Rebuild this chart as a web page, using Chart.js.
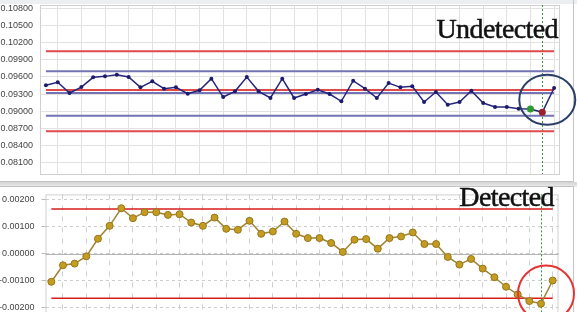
<!DOCTYPE html>
<html>
<head>
<meta charset="utf-8">
<script src="https://cdn.jsdelivr.net/npm/chart.js@4/dist/chart.umd.min.js"></script>
<style>
  html, body { margin: 0; padding: 0; background: #fff; overflow: hidden; }
  body { width: 577px; height: 312px; position: relative; }
  .band { position: absolute; left: 0; width: 577px; }
  #topPanel { position: absolute; left: 0; top: 0; width: 573px; height: 181px; border-right: 1px solid #c4c4c4; border-bottom: 1px solid #c4c4c4; }
  #botPanel { position: absolute; left: 0; top: 186px; width: 573px; height: 140px; border-right: 1px solid #c4c4c4; border-top: 1px solid #c4c4c4; }
  canvas { position: absolute; left: 0; }
  .tag { position: absolute; font-family: "Liberation Serif", serif; font-size: 28px; line-height: 28px;
         letter-spacing: -0.6px; color: #111; -webkit-text-stroke: 0.5px #111;
         text-shadow: 0 0 2px #fff, 0 0 2px #fff; }
</style>
</head>
<body>
<div class="band" style="top:0;height:4px;background:#eceef1"></div>
<div id="topPanel"></div>
<div class="band" style="top:182px;height:5px;background:linear-gradient(#d4d4d4,#ececec)"></div>
<div id="botPanel"></div>
<canvas id="chartTop" width="577" height="180" style="top:0"></canvas>
<canvas id="chartBot" width="577" height="140" style="top:186px"></canvas>
<div class="tag" style="right:19px;top:15px">Undetected</div>
<div class="tag" style="right:23px;top:183px">Detected</div>
<script>
// 上: 個々の測定値 / 下: 累積和
const samples = ["1","2","3","4","5","6","7","8","9","10","11","12","13","14","15","16","17","18","19","20","21","22",
  "23","24","25","26","27","28","29","30","31","32","33","34","35","36","37","38","39","40","41","42","43","44"];

const topValues = [0.09453, 0.09506, 0.09318, 0.09423, 0.09593, 0.09610, 0.09638, 0.09598, 0.09418, 0.09523, 0.09394,
  0.09418, 0.09306, 0.09366, 0.09569, 0.09248, 0.09348, 0.09598, 0.09348, 0.09231, 0.09569, 0.09231,
  0.09301, 0.09376, 0.09301, 0.09173, 0.09534, 0.09394, 0.09231, 0.09493, 0.09418, 0.09436, 0.09161,
  0.09336, 0.09114, 0.09161, 0.09359, 0.09143, 0.09073, 0.09073, 0.09044, 0.09038, 0.08981, 0.09406];
const topRedLimits = [0.1005, 0.0937, 0.0865];
const topBlueLimits = [0.0970, 0.0932, 0.0892];
const topTicks = [0.081, 0.084, 0.087, 0.090, 0.093, 0.096, 0.099, 0.102, 0.105, 0.108];

const botValues = [-0.001044, -0.000432, -0.000369, -0.000100, 0.000554, 0.001033, 0.001686, 0.001317, 0.001539,
  0.001539, 0.001439, 0.001465, 0.001155, 0.001033, 0.001339, 0.000923, 0.000886, 0.001218, 0.000738,
  0.000823, 0.001192, 0.000738, 0.000579, 0.000579, 0.000395, 0.000063, 0.000517, 0.000542, 0.000185,
  0.000579, 0.000638, 0.000786, 0.000358, 0.000358, -0.000122, -0.000406, -0.000196, -0.000554,
  -0.000875, -0.001229, -0.001513, -0.001760, -0.001856, -0.000996];
const botLimits = [0.00166, -0.00166];
const botTicks = [-0.002, -0.001, 0, 0.001, 0.002];

const markIndex = 42;   // 検出された点
const warnIndex = 41;

const tickFont = { family: "'Liberation Sans', Arial, sans-serif", size: 9 };

function limitSet(v, color, width) {
  return { data: samples.map(() => v), borderColor: color, borderWidth: width, pointRadius: 0, order: 2 };
}

// 枠・縦線・丸
const decoPlugin = {
  id: "deco",
  beforeDatasetsDraw(chart, args, opts) {
    const a = chart.chartArea, c = chart.ctx, x = chart.scales.x, y = chart.scales.y;
    c.save();
    c.strokeStyle = "#d0d0d0"; c.lineWidth = 1;
    c.strokeRect(a.left + 0.5, a.top + 0.5, a.right - a.left - 1, a.bottom - a.top);
    if (opts.zero) {
      const yz = Math.round(y.getPixelForValue(0)) + 0.5;
      c.strokeStyle = "#b4b4b4";
      c.beginPath(); c.moveTo(a.left, yz); c.lineTo(a.right, yz); c.stroke();
    }
    const xm = Math.round(x.getPixelForValue(markIndex)) + 0.5;
    c.strokeStyle = "#2f9a2f"; c.setLineDash([2, 2]);
    c.beginPath(); c.moveTo(xm, a.top); c.lineTo(xm, a.bottom); c.stroke();
    c.restore();
  },
  afterDatasetsDraw(chart, args, opts) {
    const c = chart.ctx, x = chart.scales.x, y = chart.scales.y;
    c.save();
    c.strokeStyle = opts.ringColor; c.lineWidth = 2;
    c.beginPath();
    c.ellipse(x.getPixelForValue(markIndex) + 5, y.getPixelForValue(opts.ringValue), opts.rx, opts.ry, 0, 0, Math.PI * 2);
    c.stroke();
    c.restore();
  }
};

function xAxis(dashed) {
  return {
    type: "category", offset: true,
    ticks: { display: false },
    border: { display: false, dash: dashed ? [5, 6] : [] },
    grid: { drawTicks: false, color: ctx => ctx.index % 2 === 1 ? (dashed ? "#cfcfcf" : "#e2e2e2") : "rgba(0,0,0,0)" },
    afterFit: s => { s.height = 0; s.paddingLeft = 0; s.paddingRight = 0; }
  };
}

function yAxis(min, max, ticks, width, dashed) {
  return {
    min: min, max: max,
    afterBuildTicks: s => { s.ticks = ticks.map(v => ({ value: v })); },
    ticks: { font: tickFont, color: "#444", padding: 7, callback: v => v.toFixed(5) },
    border: { display: false, dash: dashed ? [3, 3] : [] },
    grid: { color: dashed ? "#cdcdcd" : "#e2e2e2", drawTicks: dashed, tickLength: 4, tickColor: "#bbb" },
    afterFit: s => { s.width = width; s.paddingTop = 0; s.paddingBottom = 0; }
  };
}

new Chart(document.getElementById("chartTop").getContext("2d"), {
  type: "line",
  data: {
    labels: samples,
    datasets: [
      {
        data: topValues, borderColor: "#25257c", borderWidth: 1.5, order: 0,
        pointRadius: samples.map((s, i) => i === markIndex || i === warnIndex ? 3.5 : 2),
        pointBackgroundColor: samples.map((s, i) => i === markIndex ? "#9c1f2e" : i === warnIndex ? "#2e9a2e" : "#1c1c6c"),
        pointBorderColor: samples.map((s, i) => i === markIndex ? "#9c1f2e" : i === warnIndex ? "#2e9a2e" : "#1c1c6c"),
        pointBorderWidth: 0
      },
      ...topRedLimits.map(v => limitSet(v, "#df4a4a", 2)),
      ...topBlueLimits.map(v => limitSet(v, "#7474b4", 2))
    ]
  },
  options: {
    responsive: false, animation: false,
    layout: { padding: { left: 0, right: 17, top: 5, bottom: 6 } },
    plugins: { legend: { display: false }, tooltip: { enabled: false },
      deco: { ringColor: "#2c3f68", ringValue: 0.0920, rx: 28, ry: 25 } },
    scales: { x: xAxis(false), y: yAxis(0.079, 0.1086, topTicks, 40, false) }
  },
  plugins: [decoPlugin]
});

new Chart(document.getElementById("chartBot").getContext("2d"), {
  type: "line",
  data: {
    labels: samples,
    datasets: [
      {
        data: botValues, borderColor: "#a08232", borderWidth: 1.5, order: 0,
        pointRadius: 3.5, pointBackgroundColor: "#c49c20", pointBorderColor: "#96761c", pointBorderWidth: 1
      },
      ...botLimits.map(v => limitSet(v, "#d81c1c", 1.5))
    ]
  },
  options: {
    responsive: false, animation: false,
    layout: { padding: { left: 0, right: 18.5, top: 8.4, bottom: 4.25 } },
    plugins: { legend: { display: false }, tooltip: { enabled: false },
      deco: { zero: true, ringColor: "#e53434", ringValue: -0.00148, rx: 28, ry: 28 } },
    scales: { x: xAxis(true), y: yAxis(-0.0025, 0.0022, botTicks, 45.5, true) }
  },
  plugins: [decoPlugin]
});
</script>
</body>
</html>
